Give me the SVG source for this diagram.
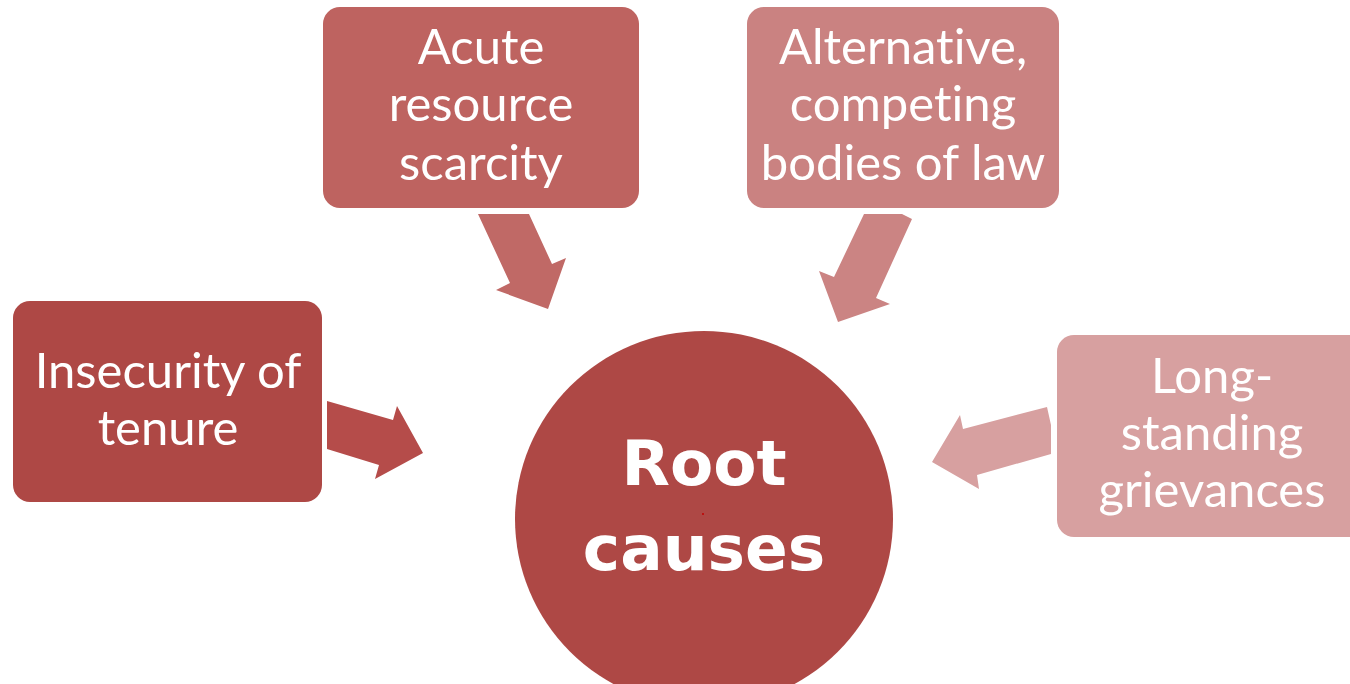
<svg xmlns="http://www.w3.org/2000/svg" width="1350" height="684" viewBox="0 0 1350 684">
  <style>
    .lbl { font-family: Lato, "Liberation Sans", sans-serif; font-size: 49px; fill: #ffffff; text-anchor: middle; font-variant-ligatures: none; }
    .hub { font-family: "DejaVu Sans", Verdana, sans-serif; font-weight: bold; font-size: 63px; fill: #ffffff; text-anchor: middle; }
  </style>
  <rect width="1350" height="684" fill="#ffffff"/>

  <!-- block arrows pointing at the hub -->
  <g id="connectors">
    <polygon fill="#C06966" points="478,214 529,214 552,264 566,258 548,309 496,290 510,283"/>
    <polygon fill="#B54C4A" points="327,401 393,420 397,406 423,453 375,479 379,465 327,449"/>
    <polygon fill="#CB8483" points="864,214 902,214 912,219 876,298 890,304 838,322 819,271 834,277"/>
    <polygon fill="#D7A0A0" points="1047,407 1051,425 1051,454 977,475 979,489 932,462 960,415 963,429"/>
  </g>

  <g id="hub">
    <ellipse cx="704" cy="519" rx="189" ry="188" fill="#AE4845"/>
    <circle cx="703" cy="514" r="1" fill="#C00000"/>
    <text class="hub" x="704" y="485">Root</text>
    <text class="hub" x="704" y="570">causes</text>
  </g>

  <g id="node-insecurity">
    <rect x="13" y="301" width="309" height="201" rx="17" fill="#AE4845"/>
    <text class="lbl" x="168" y="388">Insecurity of</text>
    <text class="lbl" x="168" y="445">tenure</text>
  </g>

  <g id="node-scarcity">
    <rect x="323" y="7" width="316" height="201" rx="17" fill="#BE6360"/>
    <text class="lbl" x="481" y="64">Acute</text>
    <text class="lbl" x="481" y="121">resource</text>
    <text class="lbl" x="481" y="180">scarcity</text>
  </g>

  <g id="node-law">
    <rect x="747" y="7" width="312" height="201" rx="17" fill="#CA8281"/>
    <text class="lbl" x="903" y="64">Alternative,</text>
    <text class="lbl" x="903" y="121">competing</text>
    <text class="lbl" x="903" y="180">bodies of law</text>
  </g>

  <g id="node-grievances">
    <rect x="1057" y="335" width="310" height="202" rx="17" fill="#D7A0A0"/>
    <text class="lbl" x="1212" y="393">Long-</text>
    <text class="lbl" x="1212" y="450">standing</text>
    <text class="lbl" x="1212" y="507">grievances</text>
  </g>
</svg>
